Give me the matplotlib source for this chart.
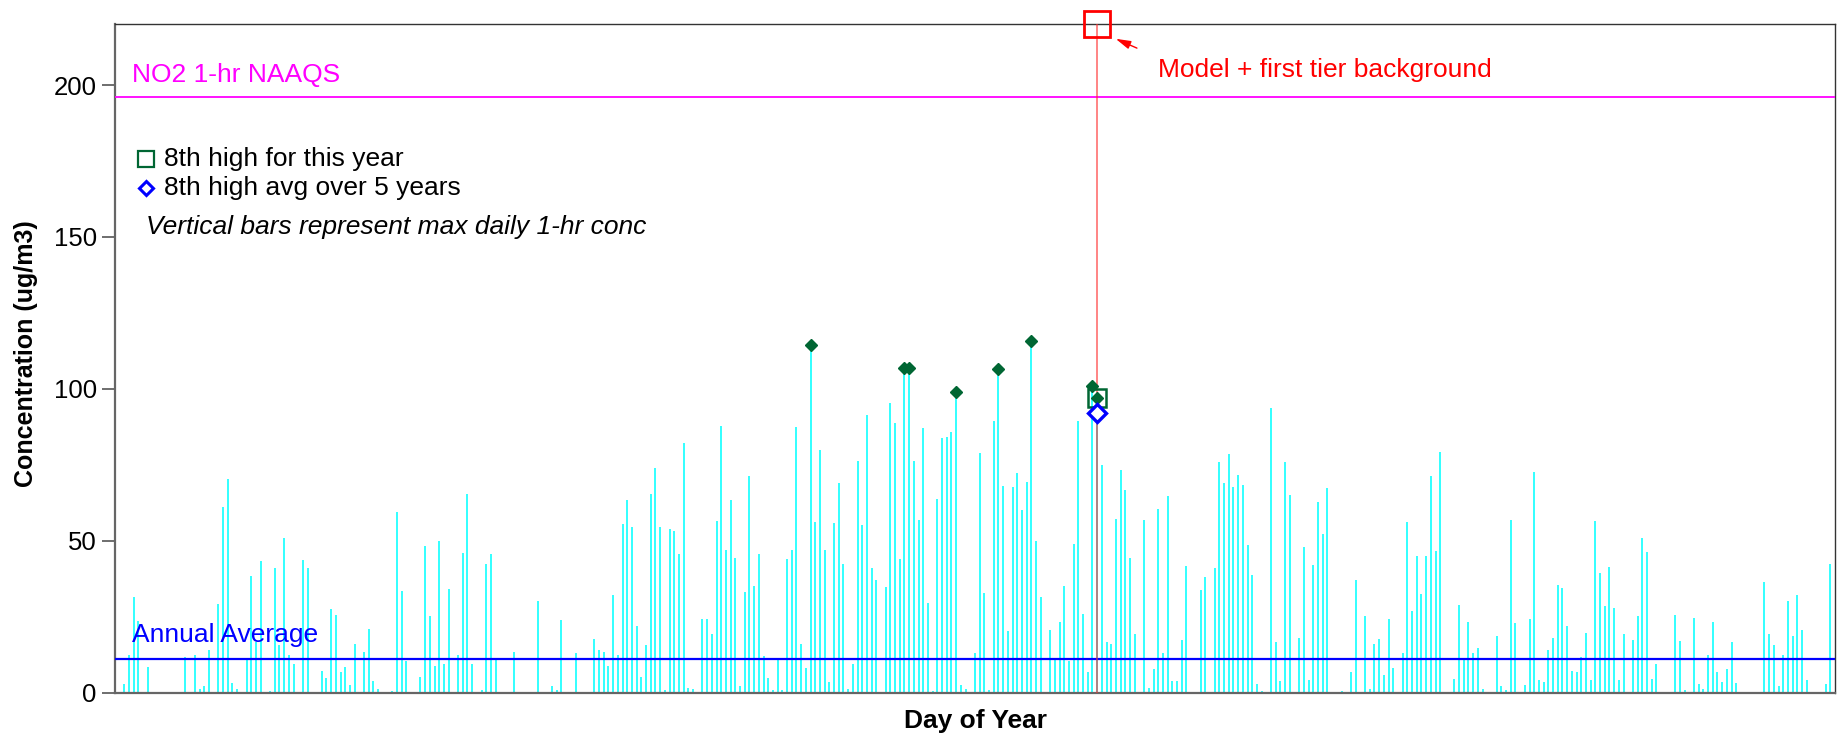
import numpy as np
import matplotlib
matplotlib.use("Agg")
import matplotlib.pyplot as plt

plt.rcParams['font.family'] = ['Liberation Sans', 'DejaVu Sans']

# ---- data ----
days = np.arange(1, 366)
conc = [
    0, 2.9, 12.4, 31.5, 23.7, 0, 8.6, 0.3, 0, 0, 0.2, 0.3, 0, 0.2, 11.6,
    0.3, 12.4, 1.3, 2.3, 14.0, 0, 29.2, 61.1, 70.4, 3.3, 1.2, 0, 11.0, 38.4, 16.6,
    43.3, 0, 0.5, 41.2, 15.7, 50.9, 12.4, 9.5, 0, 43.6, 41.1, 0, 0, 7.1, 4.9,
    27.5, 25.5, 6.9, 8.4, 2.4, 15.9, 0, 13.5, 20.9, 3.8, 1.3, 0, 0.2, 0.5, 59.6,
    33.4, 10.5, 0, 0, 5.0, 48.2, 25.2, 8.9, 49.8, 9.5, 34.2, 0, 12.4, 45.9, 65.5,
    9.5, 0, 0.9, 42.4, 45.7, 10.7, 0, 0, 0, 13.5, 0, 0, 0.2, 0, 30.3,
    0, 0, 2.3, 0.9, 23.9, 0, 0.3, 13.0, 0.2, 0, 0.2, 17.7, 13.9, 13.4, 8.9,
    32.1, 12.4, 55.5, 63.3, 54.5, 21.9, 5.0, 15.7, 65.5, 73.9, 54.5, 0.9, 53.8, 53.2, 45.8,
    82.1, 1.4, 1.1, 0, 24.2, 24.3, 19.3, 56.4, 87.9, 47.1, 63.4, 44.3, 2.1, 33.2, 71.2,
    35.1, 45.8, 12.2, 4.8, 0.9, 10.7, 0.9, 44.1, 47.1, 87.5, 16.0, 8.2, 114.4, 56.3, 79.8,
    47.1, 3.6, 55.9, 69.0, 42.2, 1.2, 9.3, 76.2, 55.2, 91.4, 41.1, 37.2, 0, 34.9, 95.5,
    88.7, 43.9, 106.9, 106.9, 76.2, 56.8, 87.1, 29.4, 0.7, 63.7, 83.9, 84.3, 85.7, 99.0, 2.5,
    1.2, 0, 13.2, 78.8, 32.7, 0.8, 89.4, 106.6, 68.1, 20.4, 67.8, 72.3, 60.1, 69.3, 115.7,
    50.0, 31.6, 0, 20.6, 11.1, 23.4, 35.1, 10.3, 48.9, 89.5, 25.8, 6.7, 100.9, 97.0, 74.9,
    16.6, 16.0, 57.2, 73.2, 66.6, 44.3, 19.3, 0, 56.8, 1.5, 7.8, 60.4, 13.2, 64.7, 3.7,
    3.7, 17.3, 41.8, 0, 0.3, 33.8, 38.0, 0, 41.0, 75.9, 69.1, 78.4, 67.7, 71.6, 68.3,
    48.6, 38.6, 2.9, 0.5, 0.3, 93.6, 16.7, 3.7, 75.8, 65.1, 0, 18.0, 47.8, 4.2, 42.0,
    62.6, 52.1, 67.4, 0.2, 0.2, 0.5, 0, 6.9, 37.0, 0, 25.1, 1.2, 16.0, 17.8, 5.8,
    24.2, 8.0, 0, 13.2, 56.1, 27.0, 45.0, 32.5, 45.1, 71.4, 46.6, 79.2, 0, 0, 4.5,
    28.8, 10.7, 23.1, 12.9, 14.8, 1.1, 0, 0.2, 18.6, 2.3, 0.8, 57.0, 22.9, 0.2, 2.5,
    24.2, 72.6, 4.1, 3.6, 14.0, 17.9, 35.4, 34.3, 22.0, 7.1, 6.7, 11.6, 19.8, 4.2, 56.5,
    39.4, 28.6, 41.4, 28.0, 4.2, 19.2, 0, 17.3, 25.2, 50.8, 46.3, 4.4, 9.4, 0, 0.2,
    0, 25.7, 17.0, 0.9, 0, 24.6, 2.9, 1.1, 12.4, 23.2, 6.9, 3.4, 7.8, 16.7, 3.1,
    0, 0, 0, 0.2, 0, 36.4, 19.4, 15.7, 2.3, 12.4, 30.2, 18.6, 32.1, 20.5, 4.1,
    0, 0.3, 0.3, 2.9, 42.5,
]
naaqs = 196.0
annual_avg = 11.1
avg5yr_8th = 91.9
model_bg = 220.0
yticks = [0, 50, 100, 150, 200]

conc = np.array(conc, dtype=float)
order = np.argsort(conc)[::-1]
top8 = order[:8]
eighth_idx = order[7]
eighth_day = days[eighth_idx]
eighth_val = conc[eighth_idx]

# ---- figure ----
fig = plt.figure(figsize=(18.37, 7.39), dpi=100)
ax = fig.add_axes([0.0626, 0.0627, 0.9363, 0.9044])
ax.set_xlim(0, 366)
ax.set_ylim(0, 220)

ax.vlines(days, 0, conc, colors='#22FFFF', linewidth=1.3, zorder=2)
ax.axhline(naaqs, color='#FF00FF', lw=1.3, zorder=3)
ax.axhline(annual_avg, color='#0000FF', lw=1.6, zorder=3)

ax.plot(days[top8], conc[top8], linestyle='none', marker='D', ms=6.3,
        color='#006633', zorder=5)
ax.vlines([eighth_day], 0, model_bg, colors='#FF3030', lw=1.1, alpha=0.75, zorder=4)
ax.plot([eighth_day], [eighth_val], marker='s', ms=13, mfc='none', mec='#006633',
        mew=1.8, zorder=6)
ax.plot([eighth_day], [avg5yr_8th], marker='D', ms=9, mfc='white', mec='#0000FF',
        mew=2.4, zorder=6)
ax.plot([eighth_day], [model_bg], marker='s', ms=18.5, mfc='none', mec='#FF0000',
        mew=2.0, zorder=7, clip_on=False)

ax.annotate('', xy=(212.4, 215.6), xytext=(218.0, 211.8),
            arrowprops=dict(arrowstyle='-|>,head_length=0.9,head_width=0.25',
                            color='#FF0000', lw=1.0))
ax.text(222.0, 202.7, 'Model + first tier background', color='#FF0000',
        fontsize=19, va='baseline', ha='left')
ax.text(3.55, 201.1, 'NO2 1-hr NAAQS', color='#FF00FF', fontsize=19,
        va='baseline', ha='left')
ax.text(3.55, 16.8, 'Annual Average', color='#0000FF', fontsize=19,
        va='baseline', ha='left')

# legend (manual)
ax.plot([6.6], [175.6], marker='s', ms=11, mfc='none', mec='#006633', mew=1.6)
ax.plot([6.6], [166.0], marker='D', ms=7.5, mfc='white', mec='#0000FF', mew=2.2)
ax.text(10.5, 175.6, '8th high for this year', fontsize=19, va='center', ha='left')
ax.text(10.5, 166.0, '8th high avg over 5 years', fontsize=19, va='center', ha='left')
ax.text(6.7, 153.4, 'Vertical bars represent max daily 1-hr conc', fontsize=19,
        style='italic', va='center', ha='left')

# axes styling
ax.set_yticks(yticks)
ax.set_yticklabels([str(v) for v in yticks])
ax.tick_params(axis='y', direction='out', length=9.6, width=1.2, color='#555555',
               labelsize=18.5, pad=3.5)
ax.set_xticks([])
for s in ['left', 'bottom']:
    ax.spines[s].set_color('#666666')
    ax.spines[s].set_linewidth(1.6)
ax.spines['top'].set_color('#333333')
ax.spines['top'].set_linewidth(1.0)
ax.spines['right'].set_color('#333333')
ax.spines['right'].set_linewidth(1.0)

fig.text(26 / 1837, 0.521, 'Concentration (ug/m3)', rotation=90, fontsize=18,
         fontweight='bold', ha='center', va='center')
fig.text(0.531, 0.0248, 'Day of Year', fontsize=19, fontweight='bold',
         ha='center', va='center')

fig.savefig('out.png', dpi=100)
